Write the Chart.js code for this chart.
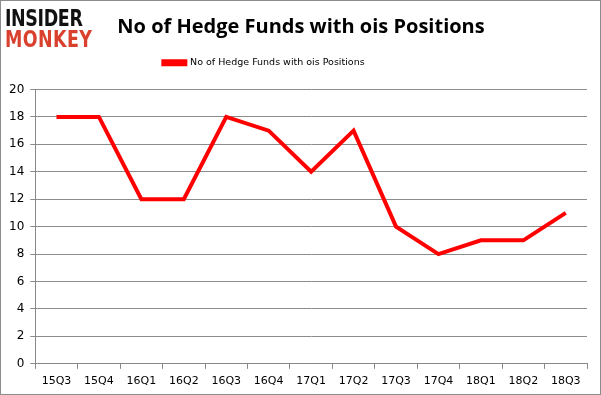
<!DOCTYPE html>
<html>
<head>
<meta charset="utf-8">
<script src="https://cdn.jsdelivr.net/npm/chart.js@4"></script>
<style>
  html, body { margin: 0; padding: 0; background: #fff; }
  #wrap { position: relative; width: 599px; height: 393px; border: 1px solid #8c8c8c; }
  #logo { position: absolute; left: 4px; top: 7px; font-family: "DejaVu Sans", sans-serif; font-weight: bold; line-height: 21px; transform: scaleX(0.76); transform-origin: left top; }
  #logo .a { color: #111; font-size: 23px; letter-spacing: -0.5px; }
  #logo .b { color: #d9412e; font-size: 23px; letter-spacing: 0.5px; }
</style>
</head>
<body>
<div id="wrap">
  <canvas id="chart" width="599" height="393"></canvas>
  <div id="logo"><div class="a">INSIDER</div><div class="b">MONKEY</div></div>
</div>
<script>
const quarters = ['15Q3', '15Q4', '16Q1', '16Q2', '16Q3', '16Q4', '17Q1', '17Q2', '17Q3', '17Q4', '18Q1', '18Q2', '18Q3'];
const fundCounts = [18, 18, 12, 12, 18, 17, 14, 17, 10, 8, 9, 9, 11];
const seriesName = 'No of Hedge Funds with ois Positions';

// extra room under the legend, and nudge title / legend sideways like the original
const headerTweaks = {
    id: 'headerTweaks',
    beforeInit(chart) {
        const fit = chart.legend.fit;
        chart.legend.fit = function () {
            fit.bind(chart.legend)();
            this.height += 12;
        };
    },
    afterLayout(chart) {
        chart.legend.left -= 31;
        chart.legend.right -= 31;
        chart.titleBlock.left += 6;
        chart.titleBlock.right += 6;
    }
};

const ctx = document.getElementById('chart').getContext('2d');
new Chart(ctx, {
    type: 'line',
    data: {
        labels: quarters,
        datasets: [{
            label: seriesName,
            data: fundCounts,
            borderColor: '#ff0000',
            backgroundColor: '#ff0000',
            borderWidth: 4,
            pointRadius: 0,
            tension: 0
        }]
    },
    options: {
        responsive: false,
        animation: false,
        layout: { padding: { left: 2, right: 13, top: 0, bottom: 0 } },
        plugins: {
            title: {
                display: true,
                text: seriesName,
                color: '#000',
                font: { family: 'Open Sans', size: 20, weight: 'bold' },
                padding: { top: 14, bottom: 7 }
            },
            legend: {
                display: true,
                position: 'top',
                labels: {
                    boxWidth: 22,
                    boxHeight: 3,
                    color: '#000',
                    font: { family: 'DejaVu Sans', size: 9.5 },
                    padding: 12
                }
            },
            tooltip: { enabled: false }
        },
        scales: {
            x: {
                offset: true,
                grid: { drawOnChartArea: false, drawTicks: true, tickLength: 5, offset: true, color: '#888' },
                border: { color: '#888' },
                ticks: { color: '#000', font: { family: 'DejaVu Sans', size: 11 }, padding: 6, maxRotation: 0 }
            },
            y: {
                min: 0,
                max: 20,
                ticks: { stepSize: 2, color: '#000', font: { family: 'DejaVu Sans', size: 12 }, padding: 6 },
                grid: { color: '#8c8c8c', tickLength: 5 },
                border: { color: '#888' }
            }
        }
    },
    plugins: [headerTweaks]
});
</script>
</body>
</html>
